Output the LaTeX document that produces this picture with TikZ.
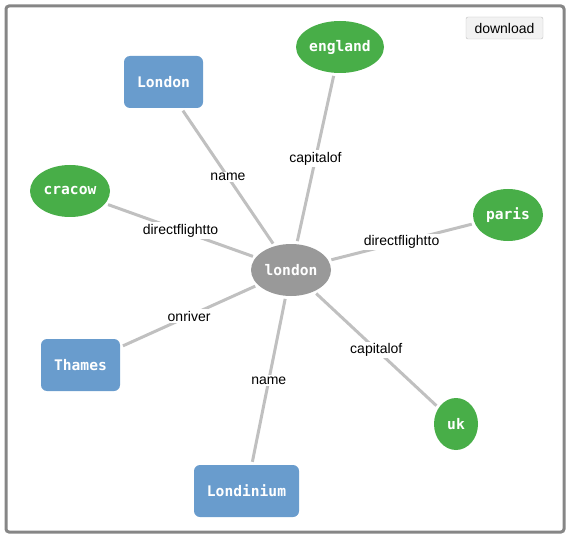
\documentclass[tikz,border=0pt]{standalone}
\usepackage{fontspec}
\setmainfont{Liberation Sans}
\newfontfamily\monofont{DejaVu Sans Mono}
\usepackage{tikz}
\usetikzlibrary{shapes.geometric}

\definecolor{entityGreen}{HTML}{48AE48}
\definecolor{literalBlue}{HTML}{699CCD}
\definecolor{hubGray}{HTML}{999999}
\definecolor{edgeGray}{HTML}{C0C0C0}

\begin{document}
\begin{tikzpicture}[x=1pt,y=-1pt]
  \tikzstyle{baseNode} = [inner sep=0pt, text=white, font={\monofont\bfseries\fontsize{14.6}{16}\selectfont}]
  \tikzstyle{entityNode} = [baseNode, ellipse, fill=entityGreen]
  \tikzstyle{hubNode} = [baseNode, ellipse, fill=hubGray, minimum width=80pt, minimum height=52pt]
  \tikzstyle{literalNode} = [baseNode, rectangle, rounded corners=6pt, fill=literalBlue, minimum height=52pt]

  \tikzstyle{linkEdge} = [edgeGray, line width=3pt, shorten <=3pt, shorten >=3pt];
  \tikzstyle{edgeLabel} = [pos=0.5, fill=white, inner sep=1.5pt, text=black, font={\fontsize{14}{16}\selectfont}];

  \useasboundingbox (0,0) rectangle (570,540);
  \draw[line width=3pt, draw=gray!95, rounded corners=3pt] (6,6) rectangle (564,532);

  \node[hubNode]     (london)    at (291,270) {london};
  \node[entityNode, minimum width=88pt, minimum height=52pt] (england) at (340,47)  {england};
  \node[entityNode, minimum width=70pt, minimum height=52pt] (paris)   at (508,215) {paris};
  \node[entityNode, minimum width=80pt, minimum height=52pt] (cracow)  at (70,191)  {cracow};
  \node[entityNode, minimum width=44pt, minimum height=52pt] (uk)      at (456,424) {uk};
  \node[literalNode, minimum width=79pt]  (London)    at (163.5,82)  {London};
  \node[literalNode, minimum width=79pt]  (Thames)    at (80.5,365)  {Thames};
  \node[literalNode, minimum width=105pt] (Londinium) at (246.5,491) {Londinium};

  \node[draw=black!25, fill=black!5, rounded corners=2pt, minimum width=77pt, minimum height=22pt, inner sep=0pt,
        font={\fontsize{14}{16}\selectfont}] (download) at (504.5,28) {download};

  \path (london) edge[linkEdge] node[edgeLabel] {name} (London)
        (london) edge[linkEdge] node[edgeLabel] {capitalof} (england)
        (london) edge[linkEdge] node[edgeLabel] {directflightto} (cracow)
        (london) edge[linkEdge] node[edgeLabel] {directflightto} (paris)
        (london) edge[linkEdge] node[edgeLabel] {onriver} (Thames)
        (london) edge[linkEdge] node[edgeLabel] {name} (Londinium)
        (london) edge[linkEdge] node[edgeLabel] {capitalof} (uk);
\end{tikzpicture}
\end{document}
